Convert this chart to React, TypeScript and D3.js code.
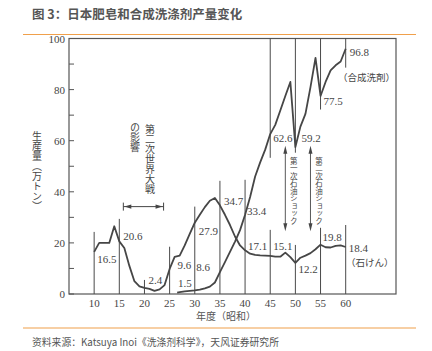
import React from 'react';
import * as d3 from 'd3';

// soap production (石けん), 万トン, Showa years
const soapYears = [10, 11, 12, 13, 14, 15, 16, 17, 18, 19, 20, 21, 22, 23, 24, 25, 26, 27, 28, 29, 30,
  31, 32, 33, 34, 35, 36, 37, 38, 39, 40, 41, 42, 43, 44, 45, 46, 47, 48, 49, 50,
  51, 52, 53, 54, 55, 56, 57, 58, 59, 60];
const soapValues = [16.5, 20, 20, 20, 26.5, 20.6, 18, 11, 5, 3, 2.4, 2, 1.2, 1.8, 3.5, 9.8, 14.5, 15, 19, 23.5, 27.9,
  31, 34, 36.5, 37.6, 34.7, 31, 27, 22.5, 19, 17.1, 15.8, 15.3, 15.1, 15, 14.9, 14.6, 14.6, 16.2, 14.4, 12.2,
  14.2, 15, 16, 17.5, 19.3, 18.3, 18.2, 18.8, 19, 18.4];

// synthetic detergent production (合成洗剤)
const synthYears = [26.5, 27, 28, 29, 30, 31, 32, 33, 34, 35, 36, 37, 38, 39, 40, 41, 42, 43, 44, 45,
  46, 47, 48, 49, 50, 51, 52, 53, 54, 55, 56, 57, 58, 59, 60];
const synthValues = [0.5, 0.7, 1.0, 1.2, 1.4, 1.7, 2.2, 2.9, 4.5, 8.6, 12.5, 16.5, 20.5, 25, 31, 38, 46, 51.5, 56.5, 62.6,
  66.2, 71.8, 77.5, 83, 57.5, 65.5, 70.5, 81, 92.4, 77.5, 83, 87.5, 89.5, 91, 96];

// labelled values
const soapLabelYears = [10, 15, 20, 25, 30, 35, 40, 45, 50, 55, 60];
const soapLabels = ['16.5', '20.6', '2.4', '9.6', '27.9', '34.7', '17.1', '15.1', '12.2', '19.8', '18.4'];
const synthLabelYears = [30, 35, 40, 45, 50, 55, 60];
const synthLabels = ['1.5', '8.6', '33.4', '62.6', '59.2', '77.5', '96.8'];

// year marker lines: lower part (0 -> value) and upper part (100 -> value)
const markerYears = [10, 15, 20, 25, 30, 35, 40, 45, 50, 55, 60];
const markerLowTops = [24.3, 29.4, 5.5, 18.5, 34.2, 44.3, 44.7, 25.1, 19.2, 25.9, 27];
const markerUpYears = [45, 50, 55, 60];
const markerUpBottoms = [53.3, 55.3, 72.2, 88.6];

const xTicks = [10, 15, 20, 25, 30, 35, 40, 45, 50, 55, 60];
const yTicks = [0, 10, 20, 30, 40, 50, 60, 70, 80, 90, 100];

const wwiiSpan = [15.8, 23.8];
const oilShockYears = [48, 53];
const oilShockNames = ['第一次石油ショック', '第二次石油ショック'];

const W = 432, H = 351;
const ink = '#454545';
const serif = '"Liberation Serif", "Times New Roman", serif';
const cjk = '"Noto Sans CJK JP", "Noto Sans CJK SC", sans-serif';
const cjkSC = '"Noto Sans CJK SC", "Noto Sans", sans-serif';

// vertical Japanese text
const VText = ({ x, y, text, size }: { x: number; y: number; text: string; size: number }) => (
  <text x={x} y={y}
    style={{ fontFamily: cjk, fontSize: size, fill: ink, writingMode: 'vertical-rl' as any }}>
    {text}
  </text>
);

const App = () => {
  const x = d3.scaleLinear().domain([5, 70]).range([69, 396]);
  const y = d3.scaleLinear().domain([0, 100]).range([294, 38.5]);

  const line = d3.line<[number, number]>().x(d => x(d[0])).y(d => y(d[1]));
  const soapPath = line(soapYears.map((yr, i) => [yr, soapValues[i]]));
  const synthPath = line(synthYears.map((yr, i) => [yr, synthValues[i]]));

  // label offsets [dx, dy, anchor] relative to (x(year), y(value))
  const soapOff: [number, number, string][] = [
    [3, 11, 'start'], [4, -1, 'start'], [4, -4, 'start'], [8, 0, 'start'], [4, 12, 'start'], [4, 0, 'start'],
    [3, 0, 'start'], [3, -5, 'start'], [3, 10, 'start'], [2, -2, 'start'], [3, 5, 'start']];
  const synthOff: [number, number, string][] = [
    [-3, -3, 'end'], [-10, -1, 'end'], [2, 6, 'start'], [3, 8, 'start'], [6, -1, 'start'], [3, 9, 'start'], [4, 9, 'start']];

  const labelStyle = { fontFamily: serif, fontSize: 11, fill: ink };

  const arrowY = y(34.2);
  const shockTop = y(58);
  const shockBottom = y(24.6);

  return (
    <svg width={W} height={H} style={{ position: 'absolute', left: 0, top: 0, background: '#fff' }}>
      {/* title */}
      <text x={32} y={19} style={{ fontFamily: cjkSC, fontSize: 12.5, fontWeight: 700, fill: '#555' }}>
        图 3：日本肥皂和合成洗涤剂产量变化
      </text>
      <line x1={23} x2={416} y1={34.5} y2={34.5} stroke="#f0a04b" strokeWidth={1.2} />

      {/* frame */}
      <rect x={x(5)} y={y(100)} width={x(70) - x(5)} height={y(0) - y(100)} fill="none" stroke="#555" strokeWidth={1.2} />

      {/* y ticks */}
      {yTicks.map(t => (
        <g key={t}>
          <line x1={x(5)} x2={x(5) + 5} y1={y(t)} y2={y(t)} stroke="#555" strokeWidth={1} />
          {t % 20 === 0 && (
            <text x={65} y={y(t) + 4} textAnchor="end" style={labelStyle}>{t}</text>
          )}
        </g>
      ))}

      {/* x tick labels */}
      {xTicks.map(t => (
        <text key={t} x={x(t)} y={307} textAnchor="middle" style={labelStyle}>{t}</text>
      ))}

      {/* year marker lines */}
      {markerYears.map((yr, i) => (
        <line key={'m' + yr} x1={x(yr)} x2={x(yr)} y1={y(0)} y2={y(markerLowTops[i])} stroke="#4a4a4a" strokeWidth={1} />
      ))}
      {markerUpYears.map((yr, i) => (
        <line key={'u' + yr} x1={x(yr)} x2={x(yr)} y1={y(100)} y2={y(markerUpBottoms[i])} stroke="#4a4a4a" strokeWidth={1} />
      ))}

      {/* series */}
      <path d={soapPath || ''} fill="none" stroke="#464646" strokeWidth={1.8} strokeLinejoin="round" />
      <path d={synthPath || ''} fill="none" stroke="#464646" strokeWidth={1.8} strokeLinejoin="round" />

      {/* value labels */}
      {soapLabelYears.map((yr, i) => {
        const v = +soapLabels[i];
        const [dx, dy, anchor] = soapOff[i];
        return <text key={'sl' + yr} x={x(yr) + dx} y={y(v) + dy} textAnchor={anchor as any} style={labelStyle}>{soapLabels[i]}</text>;
      })}
      {synthLabelYears.map((yr, i) => {
        const v = +synthLabels[i];
        const [dx, dy, anchor] = synthOff[i];
        return <text key={'yl' + yr} x={x(yr) + dx} y={y(v) + dy} textAnchor={anchor as any} style={labelStyle}>{synthLabels[i]}</text>;
      })}
      <text x={338} y={81} style={{ fontFamily: cjk, fontSize: 9.5, fill: ink }}>（合成洗剤）</text>
      <text x={346} y={266} style={{ fontFamily: cjk, fontSize: 9.5, fill: ink }}>（石けん）</text>

      {/* WWII annotation */}
      <VText x={150} y={124} text="第二次世界大戦" size={10} />
      <VText x={135} y={122} text="の影響" size={10} />
      <line x1={x(wwiiSpan[0])} x2={x(wwiiSpan[1])} y1={arrowY} y2={arrowY} stroke={ink} strokeWidth={1} />
      <line x1={x(wwiiSpan[0])} x2={x(wwiiSpan[0])} y1={arrowY - 4} y2={arrowY + 4} stroke={ink} strokeWidth={1} />
      <line x1={x(wwiiSpan[1])} x2={x(wwiiSpan[1])} y1={arrowY - 4} y2={arrowY + 4} stroke={ink} strokeWidth={1} />
      <path d={`M${x(wwiiSpan[0]) + 1},${arrowY} l7,-2.2 l0,4.4 z`} fill={ink} />
      <path d={`M${x(wwiiSpan[1]) - 1},${arrowY} l-7,-2.2 l0,4.4 z`} fill={ink} />

      {/* oil shock annotations */}
      {oilShockYears.map((yr, i) => (
        <g key={'oil' + yr}>
          <line x1={x(yr)} x2={x(yr)} y1={shockTop + 6} y2={shockBottom - 6} stroke={ink} strokeWidth={0.9} />
          <path d={`M${x(yr)},${shockTop} l-2,8 l4,0 z`} fill={ink} />
          <path d={`M${x(yr)},${shockBottom} l-2,-8 l4,0 z`} fill={ink} />
          <VText x={x(yr) + 8.5} y={157} text={oilShockNames[i]} size={7.5} />
        </g>
      ))}

      {/* axis titles */}
      <VText x={37} y={131} text="生産量（万トン）" size={10} />
      <text x={226} y={320} textAnchor="middle" style={{ fontFamily: cjkSC, fontSize: 10, fill: '#555' }}>年度（昭和）</text>

      {/* source */}
      <line x1={23} x2={416} y1={328} y2={328} stroke="#f0a04b" strokeWidth={1.2} />
      <text x={32} y={346} style={{ fontFamily: cjkSC, fontSize: 9.8, fill: '#555' }}>
        资料来源：Katsuya Inoi《洗涤剂科学》，天风证券研究所
      </text>
    </svg>
  );
};

export default App;
